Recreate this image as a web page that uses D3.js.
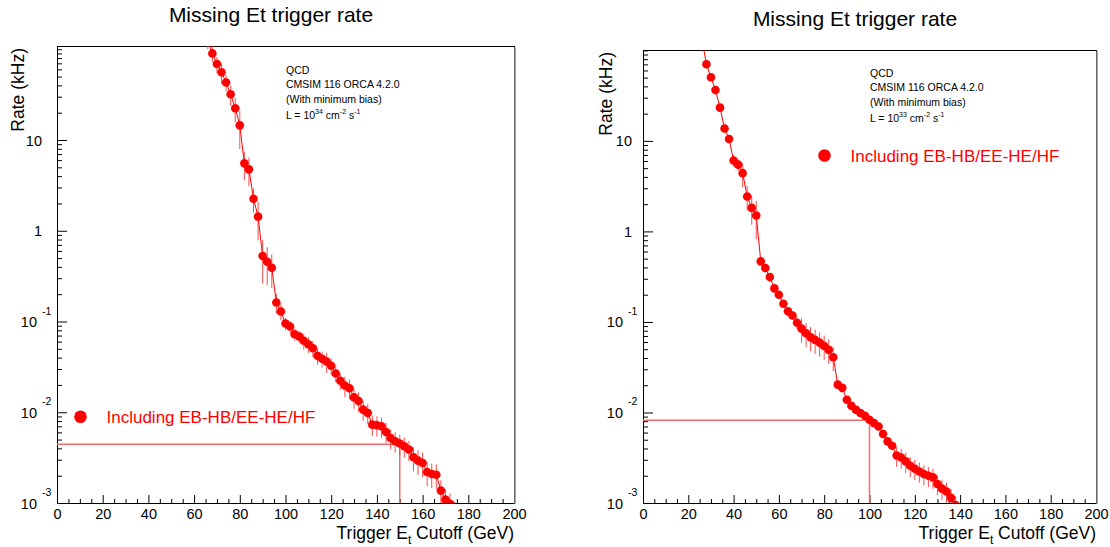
<!DOCTYPE html>
<html>
<head>
<meta charset="utf-8">
<script src="https://cdn.jsdelivr.net/npm/d3@7"></script>
<style>
  body { margin: 0; background: #fff; }
  svg { display: block; font-family: "Liberation Sans", Arial, sans-serif; }
</style>
</head>
<body>
<svg id="chart" width="1110" height="547"></svg>
<script>
// ---- data ----
var leftEt = [64,66,68,70,72,74,76,78,80,82,84,86,88,90,92,94,96,98,100,102,104,106,108,110,112,114,116,118,120,122,124,126,128,130,132,134,136,138,140,142,144,146,148,150,152,154,156,158,160,162,164,166,168,170,172,174];
var leftRate = [170,125,90,68.7,55.7,43,31.9,22.4,14.5,5.53,4.75,2.25,1.43,0.526,0.455,0.391,0.162,0.129,0.095,0.088,0.0725,0.0684,0.0613,0.0562,0.0508,0.0419,0.0388,0.0362,0.0325,0.0267,0.0222,0.0197,0.0184,0.0146,0.0133,0.0107,0.0098,0.0073,0.0072,0.0070,0.00607,0.00521,0.00479,0.00452,0.00422,0.00388,0.00319,0.00293,0.00276,0.0022,0.00209,0.00205,0.00137,0.00109,0.00098,0.0008];
var leftErr = [0.2,0.2,0.2,0.2,0.25,0.2,0.25,0.3,0.45,0.35,0.35,0.3,0.45,0.5,0.45,0.4,0.25,0.2,0.15,0.15,0.15,0.15,0.2,0.2,0.2,0.2,0.2,0.25,0.2,0.2,0.2,0.25,0.25,0.25,0.25,0.25,0.25,0.25,0.25,0.25,0.25,0.25,0.25,0.25,0.25,0.25,0.3,0.3,0.3,0.3,0.3,0.3,0.3,0.3,0.3,0.3];

var rightEt = [26,28,30,32,34,36,38,40,42,44,46,48,50,52,54,56,58,60,62,64,66,68,70,72,74,76,78,80,82,84,86,88,90,92,94,96,98,100,102,104,106,108,110,112,114,116,118,120,122,124,126,128,130,132,134,136,138,140];
var rightRate = [135,70.3,50.5,36.5,23.3,13.7,10.5,6.06,5.47,4.4,2.43,1.82,1.5,0.467,0.394,0.313,0.235,0.2,0.159,0.131,0.118,0.098,0.0843,0.075,0.0677,0.0633,0.0591,0.0543,0.0491,0.0407,0.0203,0.0187,0.0138,0.01186,0.0107,0.00985,0.0092,0.0083,0.00763,0.007,0.00578,0.00479,0.00429,0.00335,0.00318,0.00288,0.00258,0.00239,0.00223,0.00209,0.002,0.00192,0.00162,0.00144,0.00134,0.00114,0.00095,0.0008];
var rightErr = [0.1,0.1,0.1,0.1,0.1,0.1,0.1,0.15,0.15,0.3,0.3,0.35,0.45,0.1,0.1,0.1,0.1,0.1,0.1,0.1,0.1,0.15,0.3,0.3,0.3,0.3,0.3,0.3,0.3,0.3,0.1,0.1,0.1,0.1,0.1,0.1,0.1,0.1,0.1,0.1,0.1,0.1,0.1,0.25,0.25,0.25,0.25,0.25,0.25,0.25,0.25,0.25,0.25,0.25,0.25,0.25,0.25,0.25];

// the threshold drawn on each plot (Et cut, rate at that cut)
var leftCut = [150, 0.00443];
var rightCut = [100, 0.0082];

var xMajor = [0,20,40,60,80,100,120,140,160,180,200];
var xMinor = [5,10,15,25,30,35,45,50,55,65,70,75,85,90,95,105,110,115,125,130,135,145,150,155,165,170,175,185,190,195];
var yMajor = [1e-3,1e-2,1e-1,1,10];
var yLabelBase = ["10","10","10","1","10"];
var yLabelExp = ["-3","-2","-1","",""];

var titleText = "Missing Et trigger rate";
var legendText = "Including EB-HB/EE-HE/HF";
var infoLines = ["QCD", "CMSIM 116 ORCA 4.2.0", "(With minimum bias)"];

var svg = d3.select("#chart");
var red = "#ff0000";

function drawPanel(p) {
  var x = d3.scaleLinear().domain([0, 200]).range([p.left, p.right]);
  var y = d3.scaleLog().domain([1e-3, p.ymax]).range([p.bottom, p.top]);
  var g = svg.append("g");

  g.append("clipPath").attr("id", "clip" + p.id)
    .append("rect")
    .attr("x", p.left).attr("y", p.top)
    .attr("width", p.right - p.left).attr("height", p.bottom - p.top);

  // title
  g.append("text").attr("x", p.titleX).attr("y", p.titleY)
    .attr("text-anchor", "middle").attr("font-size", 21).text(titleText);

  // x axis, ticks pointing inside
  var xa = g.append("g").attr("transform", "translate(0," + p.bottom + ")")
    .call(d3.axisBottom(x).tickValues(xMajor).tickSize(-8).tickSizeOuter(0).tickPadding(6));
  xa.attr("font-size", 14.5).attr("font-family", null);
  xa.select(".domain").remove();
  var xm = g.append("g").attr("transform", "translate(0," + p.bottom + ")")
    .call(d3.axisBottom(x).tickValues(xMinor).tickSize(-4).tickFormat(""));
  xm.select(".domain").remove();

  // y axis: major + minor ticks
  var ya = g.append("g").attr("transform", "translate(" + p.left + ",0)")
    .call(d3.axisLeft(y).tickValues(yMajor).tickSize(-10).tickFormat(""));
  ya.select(".domain").remove();
  var minors = y.ticks().filter(function (v) {
    return Math.abs(Math.log10(v) - Math.round(Math.log10(v))) > 1e-6;
  }).concat([100]);
  var ym = g.append("g").attr("transform", "translate(" + p.left + ",0)")
    .call(d3.axisLeft(y).tickValues(minors).tickSize(-5).tickFormat(""));
  ym.select(".domain").remove();

  // ROOT style labels 10^-n
  yMajor.forEach(function (v, i) {
    var ty = y(v);
    if (yLabelExp[i] === "") {
      g.append("text").attr("x", p.left - p.plainGap).attr("y", ty + 5.5)
        .attr("text-anchor", "end").attr("font-size", 14.5).text(yLabelBase[i]);
    } else {
      g.append("text").attr("x", p.left - 20).attr("y", ty + 5.5)
        .attr("text-anchor", "end").attr("font-size", 14.5).text(yLabelBase[i]);
      g.append("text").attr("x", p.left - 15).attr("y", ty - 7)
        .attr("font-size", 10.5).text(yLabelExp[i]);
    }
  });

  // frame
  g.append("rect").attr("x", p.left + 0.5).attr("y", p.top + 0.5)
    .attr("width", p.right - p.left).attr("height", p.bottom - p.top)
    .attr("fill", "none").attr("stroke", "#000").attr("stroke-width", 1);
  g.append("line").attr("x1", p.right + 1).attr("x2", p.right + 1)
    .attr("y1", p.top + 1).attr("y2", p.bottom + 1)
    .attr("stroke", "#888").attr("stroke-width", 1.5);

  // axis titles
  var xt = g.append("text").attr("x", p.right).attr("y", 539)
    .attr("text-anchor", "end").attr("font-size", 17.5);
  xt.append("tspan").text("Trigger E");
  xt.append("tspan").attr("font-size", 12).attr("dy", 5).text("t");
  xt.append("tspan").attr("dy", -5).text(" Cutoff (GeV)");

  g.append("text")
    .attr("transform", "translate(" + p.yTitleX + "," + (p.top + 2) + ") rotate(-90)")
    .attr("text-anchor", "end").attr("font-size", 17.5).text("Rate (kHz)");

  // data
  var pts = p.et.map(function (e, i) { return { et: e, rate: p.rate[i], err: p.err[i] }; });
  var plot = g.append("g").attr("clip-path", "url(#clip" + p.id + ")");

  // threshold lines
  plot.append("path")
    .attr("d", "M" + x(0) + "," + y(p.cut[1]) + "H" + x(p.cut[0]) + "V" + y(1e-3))
    .attr("fill", "none").attr("stroke", "#f56a6a").attr("stroke-width", 1.5);

  plot.selectAll(".err").data(pts).enter().append("line")
    .attr("x1", function (d) { return x(d.et); })
    .attr("x2", function (d) { return x(d.et); })
    .attr("y1", function (d) { return y(d.rate * (1 + d.err)); })
    .attr("y2", function (d) { return y(d.rate * (1 - d.err)); })
    .attr("stroke", "#ff4a4a").attr("stroke-width", 1);

  plot.append("path").datum(pts)
    .attr("d", d3.line().x(function (d) { return x(d.et); }).y(function (d) { return y(d.rate); }))
    .attr("fill", "none").attr("stroke", red).attr("stroke-width", 1);

  plot.selectAll(".pt").data(pts).enter().append("circle")
    .attr("cx", function (d) { return x(d.et); })
    .attr("cy", function (d) { return y(d.rate); })
    .attr("r", 4.3).attr("fill", red);

  // info text
  var info = g.append("g").attr("font-size", 10.5).attr("fill", "#000");
  infoLines.forEach(function (s, i) {
    info.append("text").attr("x", p.infoX).attr("y", p.infoY + i * 14.3).text(s);
  });
  var lt = info.append("text").attr("x", p.infoX).attr("y", p.infoY + 3 * 14.3 + 2);
  lt.append("tspan").text("L = 10");
  lt.append("tspan").attr("font-size", 7).attr("dy", -5).text(p.lumiExp);
  lt.append("tspan").attr("dy", 5).text(" cm");
  lt.append("tspan").attr("font-size", 7).attr("dy", -5).text("-2");
  lt.append("tspan").attr("dy", 5).text(" s");
  lt.append("tspan").attr("font-size", 7).attr("dy", -5).text("-1");

  // legend
  g.append("circle").attr("cx", p.legX).attr("cy", p.legY).attr("r", 6.3).attr("fill", red);
  g.append("text").attr("x", p.legX + 26).attr("y", p.legY + 6.5)
    .attr("font-size", 17).attr("fill", red).text(legendText);
}

drawPanel({
  id: "L", left: 57, right: 514, top: 46, bottom: 503, ymax: Math.pow(10, 2.036),
  et: leftEt, rate: leftRate, err: leftErr, cut: leftCut,
  titleX: 271, titleY: 22, yTitleX: 24, plainGap: 15,
  infoX: 286, infoY: 74, lumiExp: "34", legX: 80.5, legY: 416.7
});
drawPanel({
  id: "R", left: 643, right: 1096, top: 50, bottom: 503, ymax: Math.pow(10, 2.004),
  et: rightEt, rate: rightRate, err: rightErr, cut: rightCut,
  titleX: 855, titleY: 26, yTitleX: 612, plainGap: 11,
  infoX: 870, infoY: 77, lumiExp: "33", legX: 824.5, legY: 155.5
});
</script>
</body>
</html>
